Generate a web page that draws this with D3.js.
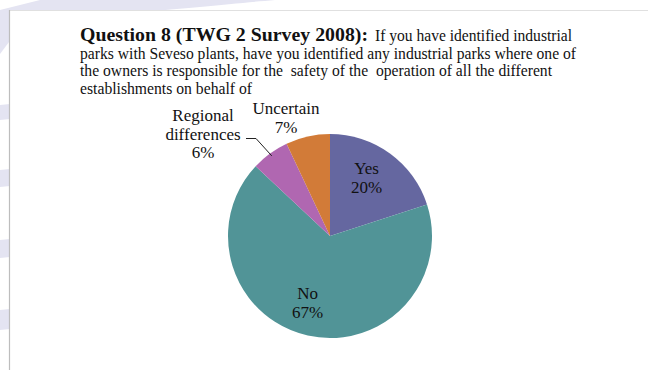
<!DOCTYPE html>
<html>
<head>
<meta charset="utf-8">
<script src="https://cdn.jsdelivr.net/npm/d3@7"></script>
<style>
  html, body { margin: 0; padding: 0; background: #fff; }
  svg { display: block; }
  text { font-family: "Liberation Serif", "DejaVu Serif", serif; fill: #111; white-space: pre; }
</style>
</head>
<body>
<svg id="chart" width="648" height="370"></svg>
<script>
// Survey answers, clockwise from 12 o'clock
const categories = ["Yes", "No", "Regional differences", "Uncertain"];
const shares = [20, 67, 6, 7];
const sliceColors = ["#6567a0", "#519497", "#b067b1", "#d27b38"];

const titleBold = "Question 8 (TWG 2 Survey 2008):";
const titleLines = [
  "If you have identified industrial",
  "parks with Seveso plants, have you identified any industrial parks where one of",
  "the owners is responsible for the  safety of the  operation of all the different",
  "establishments on behalf of"
];

const W = 648, H = 370;
const svg = d3.select("#chart");

// slide backdrop: pale swooshes behind a white panel
const bg = svg.append("g");
bg.append("rect").attr("width", W).attr("height", H).attr("fill", "#ffffff");
const swoosh = "#e4e4f2";
bg.append("path").attr("fill", swoosh)
  .attr("d", "M40,0 L275,0 C240,3 190,8 120,14 L0,30 L0,10 Z");
bg.append("path").attr("fill", swoosh)
  .attr("d", "M0,17 L30,14 L0,54 Z");
[[105, 120], [170, 187], [240, 258], [310, 330]].forEach(([a, b]) => {
  bg.append("path").attr("fill", swoosh)
    .attr("d", `M0,${a} L10,${a - 1} L10,${b - 1} L0,${b} Z`);
});
// panel
bg.append("rect").attr("x", 10).attr("y", 10.5).attr("width", W - 10).attr("height", H - 10)
  .attr("fill", "#fff");
bg.append("line").attr("x1", 9.5).attr("x2", W).attr("y1", 10.5).attr("y2", 10.5)
  .attr("stroke", "#e0e0e0").attr("stroke-width", 1);
bg.append("line").attr("x1", 9.5).attr("x2", 9.5).attr("y1", 10).attr("y2", H)
  .attr("stroke", "#bdbdbd").attr("stroke-width", 1.2);

// title block: each line is stretched to its set width
const tx = 80, lineY = [41, 58.5, 76, 93.5];
function fitText(x, y, str, width, size, weight) {
  return svg.append("text").attr("x", x).attr("y", y)
    .attr("font-size", size).attr("font-weight", weight || "normal")
    .attr("textLength", width).attr("lengthAdjust", "spacingAndGlyphs")
    .text(str);
}
fitText(tx, lineY[0], titleBold, 288, 19, "bold");
fitText(375, lineY[0], titleLines[0], 197, 16);
fitText(tx, lineY[1], titleLines[1], 496, 16);
fitText(tx, lineY[2], titleLines[2], 472, 16);
fitText(tx, lineY[3], titleLines[3], 172, 16);

// pie
const cx = 330, cy = 236, r = 102;
const data = categories.map((c, i) => ({ name: c, value: shares[i], color: sliceColors[i] }));
const pie = d3.pie().sort(null).value(d => d.value).startAngle(0).endAngle(2 * Math.PI);
const arcs = pie(data);
const arc = d3.arc().innerRadius(0).outerRadius(r);
const g = svg.append("g").attr("transform", `translate(${cx},${cy})`);
g.selectAll("path.slice").data(arcs).join("path")
  .attr("class", "slice")
  .attr("d", arc)
  .attr("fill", d => d.data.color);

const fmt = d => `${d.data.value}%`;
const labelSize = 17;

// inside labels (Yes, No)
const insideDist = { "Yes": 64, "No": 75 };
const insideShift = { "Yes": -1, "No": -6 };
arcs.filter(d => d.data.name in insideDist).forEach(d => {
  const lab = d3.arc().innerRadius(0).outerRadius(2 * insideDist[d.data.name]);
  const [x0, y] = lab.centroid(d);
  const x = x0 + insideShift[d.data.name];
  const t = g.append("text").attr("text-anchor", "middle").attr("font-size", labelSize);
  t.append("tspan").attr("x", x).attr("y", y - 10).text(d.data.name);
  t.append("tspan").attr("x", x).attr("y", y + 9).text(fmt(d));
});

// outside labels
const uncertain = arcs.find(d => d.data.name === "Uncertain");
{
  const ut = svg.append("text").attr("text-anchor", "middle").attr("font-size", labelSize);
  ut.append("tspan").attr("x", 286).attr("y", 114).text(uncertain.data.name);
  ut.append("tspan").attr("x", 286).attr("y", 133).text(fmt(uncertain));
}
const regional = arcs.find(d => d.data.name === "Regional differences");
{
  const rt = svg.append("text").attr("text-anchor", "middle").attr("font-size", labelSize);
  rt.append("tspan").attr("x", 203).attr("y", 121).text("Regional");
  rt.append("tspan").attr("x", 203).attr("y", 140).text("differences");
  rt.append("tspan").attr("x", 203).attr("y", 158).text(fmt(regional));
  // leader from label to slice edge
  const mid = (regional.startAngle + regional.endAngle) / 2;
  const ex = cx + Math.sin(mid) * (r - 3), ey = cy - Math.cos(mid) * (r - 3);
  svg.append("path").attr("fill", "none").attr("stroke", "#222").attr("stroke-width", 1)
    .attr("d", `M246,138.5 L256,138.5 L${ex},${ey}`);
}
</script>
</body>
</html>
